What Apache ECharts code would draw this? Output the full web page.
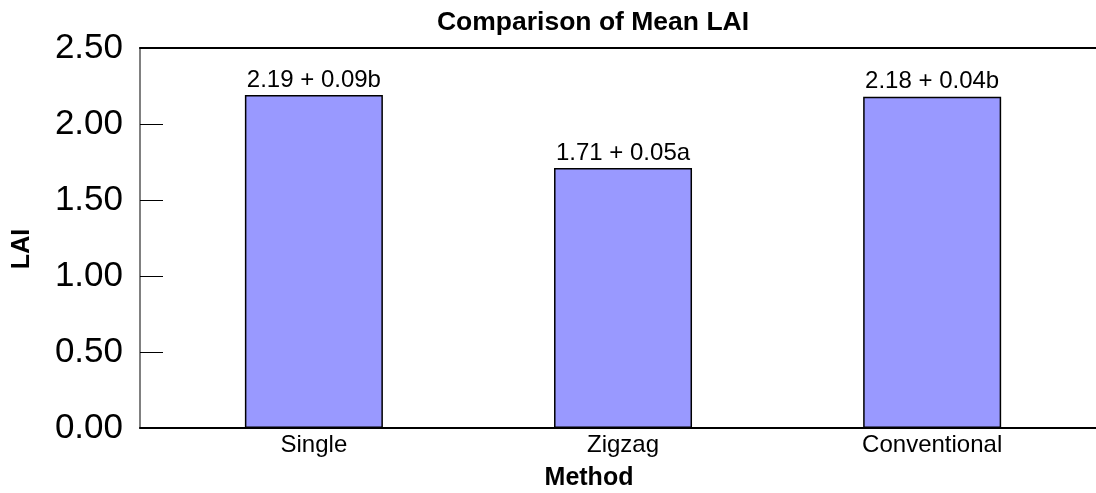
<!DOCTYPE html>
<html>
<head>
<meta charset="utf-8">
<script src="https://cdn.jsdelivr.net/npm/echarts@6/dist/echarts.min.js"></script>
<style>
  html, body { margin: 0; padding: 0; background: #fff; }
  #chart { width: 1096px; height: 493px; }
</style>
</head>
<body>
<div id="chart"></div>
<script>
// 数据
var methods = ['Single', 'Zigzag', 'Conventional'];
var meanLAI = [2.19, 1.71, 2.18];
var seLAI = [0.09, 0.05, 0.04];
var groups = ['b', 'a', 'b'];
var methodPos = [1, 2, 3];

var chart = echarts.init(document.getElementById('chart'));

var barData = [];
for (var i = 0; i < methods.length; i++) {
  barData.push({
    value: [methodPos[i], meanLAI[i]],
    label: { formatter: meanLAI[i].toFixed(2) + ' + ' + seLAI[i].toFixed(2) + groups[i] }
  });
}

var font = 'Liberation Sans, Arial, sans-serif';

var option = {
  backgroundColor: '#fff',
  animation: false,
  textStyle: { fontFamily: font },
  title: {
    text: 'Comparison of Mean LAI',
    left: 588,
    textAlign: 'center',
    top: 4,
    textStyle: { fontSize: 26.5, fontWeight: 'bold', color: '#000', fontFamily: font }
  },
  grid: { left: 140, right: 0, top: 48, bottom: 65, containLabel: false, outerBoundsMode: 'none' },
  xAxis: [{
    type: 'value',
    min: 0.4375,
    max: 3.53,
    name: 'Method',
    nameLocation: 'middle',
    nameGap: 38,
    nameTextStyle: { fontSize: 25, fontWeight: 'bold', color: '#000', padding: [0, 58, 0, 0] },
    axisLine: { show: true, lineStyle: { color: '#000', width: 2 } },
    axisTick: { show: false },
    splitLine: { show: false },
    axisLabel: {
      customValues: methodPos,
      fontSize: 24,
      color: '#000',
      margin: 5,
      formatter: function (v) { return methods[methodPos.indexOf(Math.round(v))] || ''; }
    }
  }, {
    type: 'value',
    position: 'top',
    min: 0.4375,
    max: 3.53,
    axisLine: { show: true, lineStyle: { color: '#000', width: 2 } },
    axisTick: { show: false },
    axisLabel: { show: false },
    splitLine: { show: false }
  }],
  yAxis: {
    type: 'value',
    min: 0,
    max: 2.5,
    interval: 0.5,
    name: 'LAI',
    nameLocation: 'middle',
    nameGap: 105,
    nameRotate: 90,
    nameTextStyle: { fontSize: 25, fontWeight: 'bold', color: '#000', padding: [0, 22, 0, 0] },
    axisLine: { show: true, lineStyle: { color: '#808080', width: 2 } },
    axisTick: { show: true, inside: true, length: 23, lineStyle: { color: '#000', width: 1 } },
    splitLine: { show: false },
    axisLabel: {
      fontSize: 35,
      color: '#000',
      margin: 17,
      formatter: function (v) { return v.toFixed(2); }
    }
  },
  series: [{
    type: 'bar',
    xAxisIndex: 0,
    barWidth: 138,
    data: barData,
    itemStyle: { color: '#9999ff', borderColor: '#000', borderWidth: 1.5 },
    label: { show: true, position: 'top', distance: 3, fontSize: 24, color: '#000' }
  }]
};

chart.setOption(option);
</script>
</body>
</html>
